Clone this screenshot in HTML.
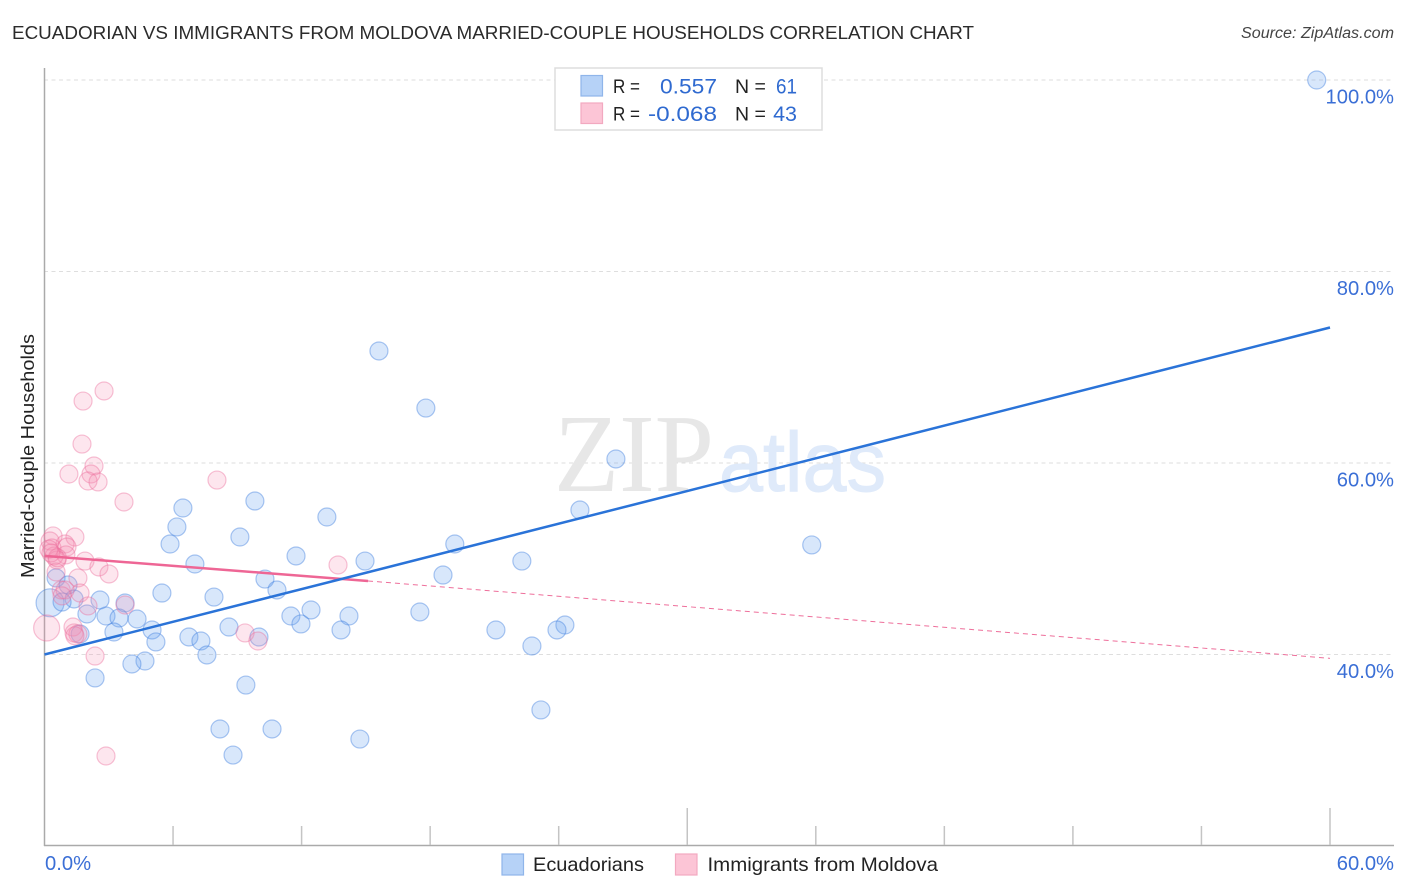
<!DOCTYPE html>
<html lang="en">
<head>
<meta charset="utf-8">
<title>Ecuadorian vs Immigrants from Moldova Married-couple Households Correlation Chart</title>
<style>
html,body{margin:0;padding:0;background:#fff;width:1406px;height:892px;overflow:hidden}
svg{display:block;font-family:"Liberation Sans",sans-serif}
.tick{fill:#3b6fd6;font-size:20.2px}
.lg{fill:#222;font-size:19.5px}
.val{fill:#2f6ad0;font-size:21.5px}
</style>
</head>
<body>
<svg id="chart" width="1406" height="892" viewBox="0 0 1406 892" xmlns="http://www.w3.org/2000/svg">
  <text x="12" y="39" font-size="18.5" fill="#2b2b2b" textLength="962" lengthAdjust="spacingAndGlyphs">ECUADORIAN VS IMMIGRANTS FROM MOLDOVA MARRIED-COUPLE HOUSEHOLDS CORRELATION CHART</text>
  <text x="1394" y="38" font-size="15.5" font-style="italic" fill="#444" text-anchor="end" textLength="153" lengthAdjust="spacingAndGlyphs">Source: ZipAtlas.com</text>
  <g id="grid"></g>
  <text x="554" y="491" font-family="'Liberation Serif',serif" font-size="111" fill="#e7e7e7" textLength="160" lengthAdjust="spacingAndGlyphs">ZIP</text>
  <text x="719" y="491" font-family="'Liberation Sans',sans-serif" font-size="84" fill="#dfeafa" stroke="#dfeafa" stroke-width="1" textLength="167" lengthAdjust="spacingAndGlyphs">atlas</text>
  <line x1="44.5" y1="68" x2="44.5" y2="846" stroke="#aaa" stroke-width="1.5"/>
  <line x1="44" y1="845.5" x2="1394" y2="845.5" stroke="#aaa" stroke-width="1.5"/>
  <g id="xticks"></g>
  <g id="ylabels"></g>
  <text class="tick" x="45" y="870">0.0%</text>
  <text class="tick" x="1394" y="870" text-anchor="end">60.0%</text>
  <text transform="translate(34,578) rotate(-90)" font-size="18.5" fill="#222" textLength="244" lengthAdjust="spacingAndGlyphs">Married-couple Households</text>
  <g id="points"></g>
  <g id="trends"></g>

  <g>
    <rect x="555" y="68" width="267" height="62" fill="#fff" stroke="#ddd" stroke-width="1.5"/>
    <rect x="581" y="75.500" width="21.500" height="20.500" fill="#b6d2f7" stroke="#8fb5ea" stroke-width="1.200"/>
    <rect x="581" y="103" width="21.500" height="20.500" fill="#fcc5d6" stroke="#f2a9c0" stroke-width="1.200"/>
    <text class="lg" x="613" y="93" textLength="27" lengthAdjust="spacingAndGlyphs">R =</text>
    <text class="val" x="717" y="93.500" text-anchor="end" textLength="57" lengthAdjust="spacingAndGlyphs">0.557</text>
    <text class="lg" x="735" y="93">N =</text>
    <text class="val" x="797" y="93.500" text-anchor="end" textLength="21" lengthAdjust="spacingAndGlyphs">61</text>
    <text class="lg" x="613" y="120.500" textLength="27" lengthAdjust="spacingAndGlyphs">R =</text>
    <text class="val" x="717" y="121" text-anchor="end" textLength="69" lengthAdjust="spacingAndGlyphs">-0.068</text>
    <text class="lg" x="735" y="120.500">N =</text>
    <text class="val" x="797" y="121" text-anchor="end">43</text>
  </g>

  <g>
    <rect x="502" y="854" width="21.500" height="21" fill="#b6d2f7" stroke="#8fb5ea" stroke-width="1.200"/>
    <text class="lg" x="533" y="871" textLength="111" lengthAdjust="spacingAndGlyphs">Ecuadorians</text>
    <rect x="675.500" y="854" width="21.500" height="21" fill="#fcc5d6" stroke="#f2a9c0" stroke-width="1.200"/>
    <text class="lg" x="707.500" y="871" textLength="230.500" lengthAdjust="spacingAndGlyphs">Immigrants from Moldova</text>
  </g>
</svg>
<script>
const blueX = [59.38,15.61,17.80,26.67,9.82,6.46,13.18,24.99,6.18,9.12,5.86,35.81,19.15,11.74,22.28,14.96,7.02,18.60,10.29,0.54,1.10,10.85,5.48,7.91,1.38,2.59,3.76,0.82,12.44,17.52,11.50,14.21,1.98,2.87,3.48,4.32,11.97,8.61,24.29,23.92,21.07,13.84,5.02,3.24,1.66,6.74,10.01,7.30,5.20,22.75,7.58,4.69,4.08,2.36,9.40,23.17,8.19,10.62,14.72,8.80];
const blueY = [100,71.70,65.74,60.42,56.03,55.30,54.36,55.09,53.32,52.27,51.54,51.44,51.54,50.29,49.76,49.76,49.45,48.30,47.88,48.00,47.26,46.74,46.42,46.00,45.80,45.69,45.38,45.48,44.65,44.44,44.02,44.02,44.23,44.02,43.81,43.71,43.19,42.87,43.08,42.56,42.56,42.56,42.56,42.35,42.14,41.83,41.83,41.41,41.31,40.89,39.95,39.32,39.01,37.55,36.81,34.21,32.22,32.22,31.17,29.50];
const blueLargeX = [0.26];
const blueLargeY = [45.40];
const pinkX = [2.78,1.80,1.75,2.31,1.14,2.17,2.03,2.50,8.05,3.71,0.40,1.42,0.96,0.26,0.35,1.05,1.00,0.45,0.58,1.89,2.54,13.70,3.01,0.54,1.56,0.78,1.66,0.96,0.82,2.03,3.76,1.33,1.38,1.56,1.42,9.36,9.96,2.36,2.87,0.20,0.30,0.60];
const pinkY = [67.52,66.47,61.98,59.69,58.85,58.85,58.12,58.02,58.22,55.93,52.38,52.27,51.54,51.85,51.12,51.23,50.40,50.29,49.87,49.76,49.14,49.35,48.41,48.62,47.99,46.74,46.42,46.74,46.12,45.07,45.17,42.87,42.25,42.14,41.95,42.25,41.41,39.84,29.40,51.00,50.60,50.10];
const pinkLargeX = [0.10];
const pinkLargeY = [42.77];
const blueTrendX = [0, 60];
const blueTrendY = [40.0, 74.15];
const pinkSolidX = [0, 15.1];
const pinkSolidY = [50.3, 47.68];
const pinkDashX = [15.1, 60];
const pinkDashY = [47.68, 39.6];
const xTickValues = [0,6,12,18,24,30,36,42,48,54,60];
const xMajorTicks = [30,60];
const yTickValues = [100,80,60,40];
const yTickLabels = ['100.0%','80.0%','60.0%','40.0%'];

const NS = 'http://www.w3.org/2000/svg';
function xScale(v){ return 44.5 + v * (1330 - 44.5) / 60; }
function yScale(v){ return 654.5 - (v - 40) * (654.5 - 80) / 60; }
function make(tag, attrs, parent){
  const el = document.createElementNS(NS, tag);
  for (const k in attrs) el.setAttribute(k, attrs[k]);
  parent.appendChild(el);
  return el;
}

const gridG = document.getElementById('grid');
const yLabelG = document.getElementById('ylabels');
yTickValues.forEach(function(v, i){
  const ln = make('line', {x1:44, x2:1394, y1:yScale(v), y2:yScale(v), stroke:'#dedede', 'stroke-width':1, 'stroke-dasharray':'4 3.5'}, gridG);
  
  
  const t = make('text', {x:1394, y:yScale(v) + 23.5, 'text-anchor':'end', class:'tick'}, yLabelG);
  t.textContent = yTickLabels[i];
  
  
});

const xTickG = document.getElementById('xticks');
xTickValues.slice(1).forEach(function(v){
  const top = xMajorTicks.indexOf(v) >= 0 ? 808 : 826;
  const ln = make('line', {x1:xScale(v), x2:xScale(v), y1:top, y2:845, stroke:'#c4c4c4', 'stroke-width':1.5}, xTickG);
  
  
});

const pointG = document.getElementById('points');
function drawSeries(xs, ys, r, fill, stroke, label){
  xs.forEach(function(v, i){
    const c = make('circle', {cx:xScale(v), cy:yScale(ys[i]), r:r, fill:fill, stroke:stroke, 'stroke-width':1.2}, pointG);
    
    
  });
}
const blueFill = 'rgba(100,160,238,0.25)', blueStroke = 'rgba(60,125,222,0.42)';
const pinkFill = 'rgba(246,140,178,0.22)', pinkStroke = 'rgba(235,105,152,0.4)';
drawSeries(blueLargeX, blueLargeY, 14, blueFill, blueStroke, 'ecuadorians-point');
drawSeries(blueX, blueY, 9, blueFill, blueStroke, 'ecuadorians-point');
drawSeries(pinkLargeX, pinkLargeY, 13, pinkFill, pinkStroke, 'moldova-point');
drawSeries(pinkX, pinkY, 9, pinkFill, pinkStroke, 'moldova-point');

const trendG = document.getElementById('trends');
function drawLine(xs, ys, color, width, dash, label){
  const attrs = {x1:xScale(xs[0]), y1:yScale(ys[0]), x2:xScale(xs[1]), y2:yScale(ys[1]), stroke:color, 'stroke-width':width};
  if (dash) attrs['stroke-dasharray'] = dash;
  const ln = make('line', attrs, trendG);
  
  
}
drawLine(pinkDashX, pinkDashY, '#ee6f9b', 1, '5 4', 'moldova-trend-projection');
drawLine(pinkSolidX, pinkSolidY, '#ee6695', 2.5, null, 'moldova-trend-line');
drawLine(blueTrendX, blueTrendY, '#2a73d8', 2.5, null, 'ecuadorians-trend-line');
</script>
</body>
</html>
